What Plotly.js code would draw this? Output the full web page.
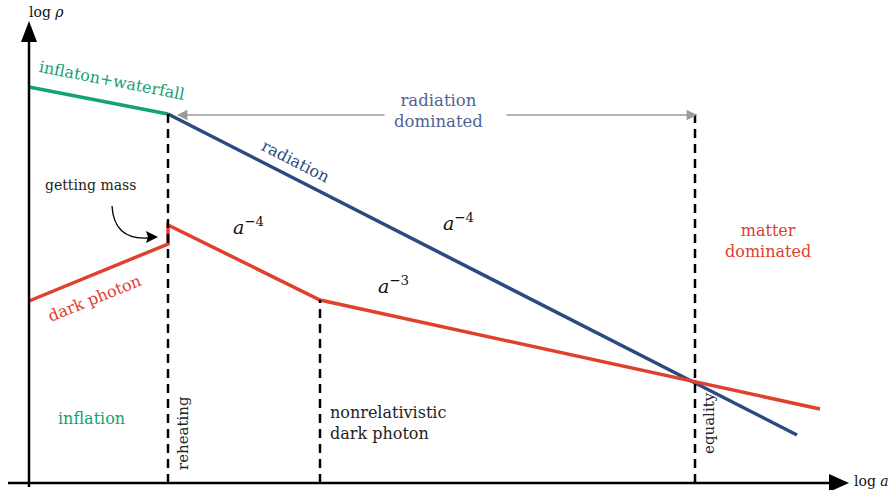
<!DOCTYPE html>
<html><head><meta charset="utf-8">
<script src="https://cdn.plot.ly/plotly-3.0.1.min.js"></script>
<style>html,body{margin:0;padding:0;background:#fff}#chart{width:893px;height:490px}</style>
</head><body><div id="chart"></div>
<script>
// Schematic values (log a, log rho) in arbitrary chart units
const inflatonX = [29, 150, 168];
const inflatonY = [403, 380, 376];
const radiationX = [168, 797];
const radiationY = [376, 55];
const photonX = [29, 168, 168, 320, 820];
const photonY = [189, 246, 265, 190, 81];
const eventNames = ["reheating", "nonrelativistic", "equality"];
const eventX = [168, 320, 695];
const eventTopY = [376, 190, 376];

const GREEN = "#14a271", BLUE = "#2b4a80", RED = "#e0402e", GRAY = "#9a9a9a";
const FONT = "DejaVu Serif";

const traces = [
  {x: inflatonX, y: inflatonY, mode: "lines", line: {color: GREEN, width: 3.5}, hoverinfo: "skip"},
  {x: radiationX, y: radiationY, mode: "lines", line: {color: BLUE, width: 3.5}, hoverinfo: "skip"},
  {x: photonX, y: photonY, mode: "lines", line: {color: RED, width: 3.5}, hoverinfo: "skip"}
];
eventX.forEach((ex, i) => {
  traces.push({x: [ex, ex], y: [7, eventTopY[i]], mode: "lines", name: eventNames[i],
    line: {color: "#000", width: 2.5, dash: "9px,6px"}, hoverinfo: "skip"});
});

const shapes = [
  {type: "line", xref: "x", yref: "y", x0: 29, y0: 3, x1: 29, y1: 452, line: {color: "#000", width: 2.5}},
  {type: "line", xref: "x", yref: "y", x0: 8, y0: 7, x1: 834, y1: 7, line: {color: "#000", width: 2.5}},
  {type: "path", xref: "x", yref: "y", path: "M 29,469 L 21,448 L 37,448 Z", fillcolor: "#000", line: {width: 0}},
  {type: "path", xref: "x", yref: "y", path: "M 849,7 L 829,-2 L 829,16 Z", fillcolor: "#000", line: {width: 0}},
  {type: "path", xref: "x", yref: "y", path: "M 112,284 Q 114,250 148,252", line: {color: "#000", width: 1.3}},
  {type: "path", xref: "x", yref: "y", path: "M 158,253 L 146,247 L 148,253 L 146,259 Z", fillcolor: "#000", line: {width: 0}}
];

function txt(text, x, y, opt) {
  return Object.assign({text: text, x: x, y: y, xref: "x", yref: "y", showarrow: false,
    font: {family: FONT, size: 14, color: "#222"}}, opt || {});
}
const annotations = [
  txt("log <i>ρ</i>", 46, 478, {font: {family: FONT, size: 14, color: "#111"}}),
  txt("log <i>a</i>", 871, 9, {font: {family: FONT, size: 14, color: "#111"}}),
  txt("inflaton+waterfall", 112, 410, {textangle: 11, font: {family: FONT, size: 16, color: GREEN}}),
  txt("radiation", 296, 329, {textangle: 27, font: {family: FONT, size: 16, color: BLUE}}),
  txt("radiation<br>dominated", 438, 379, {font: {family: FONT, size: 16.5, color: "#4f6494"}}),
  txt("getting mass", 90, 305, {font: {family: FONT, size: 14, color: "#222"}}),
  txt("<i>a</i><sup>−4</sup>", 248, 264, {font: {family: FONT, size: 19, color: "#111"}}),
  txt("<i>a</i><sup>−4</sup>", 458, 268, {font: {family: FONT, size: 19, color: "#111"}}),
  txt("<i>a</i><sup>−3</sup>", 393, 205, {font: {family: FONT, size: 19, color: "#111"}}),
  txt("matter<br>dominated", 768, 249, {font: {family: FONT, size: 16, color: RED}}),
  txt("dark photon", 94, 192, {textangle: -22, font: {family: FONT, size: 16, color: RED}}),
  txt("inflation", 91, 72, {font: {family: FONT, size: 16, color: GREEN}}),
  txt("reheating", 183, 57, {textangle: -90, font: {family: FONT, size: 15, color: "#222"}}),
  txt("nonrelativistic<br>dark photon", 328, 67, {xanchor: "left", align: "left", font: {family: FONT, size: 16, color: "#222"}}),
  txt("equality", 709, 67, {textangle: -90, font: {family: FONT, size: 15, color: "#222"}}),
  {x: 177, y: 375, ax: 386, ay: 375, xref: "x", yref: "y", axref: "x", ayref: "y", text: "",
   showarrow: true, arrowhead: 2, arrowsize: 1.3, arrowwidth: 1.6, arrowcolor: GRAY},
  {x: 697, y: 375, ax: 505, ay: 375, xref: "x", yref: "y", axref: "x", ayref: "y", text: "",
   showarrow: true, arrowhead: 2, arrowsize: 1.3, arrowwidth: 1.6, arrowcolor: GRAY}
];

const layout = {
  width: 893, height: 490, margin: {l: 0, r: 0, t: 0, b: 0},
  paper_bgcolor: "#fff", plot_bgcolor: "#fff", showlegend: false,
  font: {family: FONT},
  xaxis: {range: [0, 893], visible: false, fixedrange: true},
  yaxis: {range: [0, 490], visible: false, fixedrange: true},
  shapes: shapes, annotations: annotations
};
Plotly.newPlot("chart", traces, layout, {displayModeBar: false, staticPlot: true});
</script></body></html>
